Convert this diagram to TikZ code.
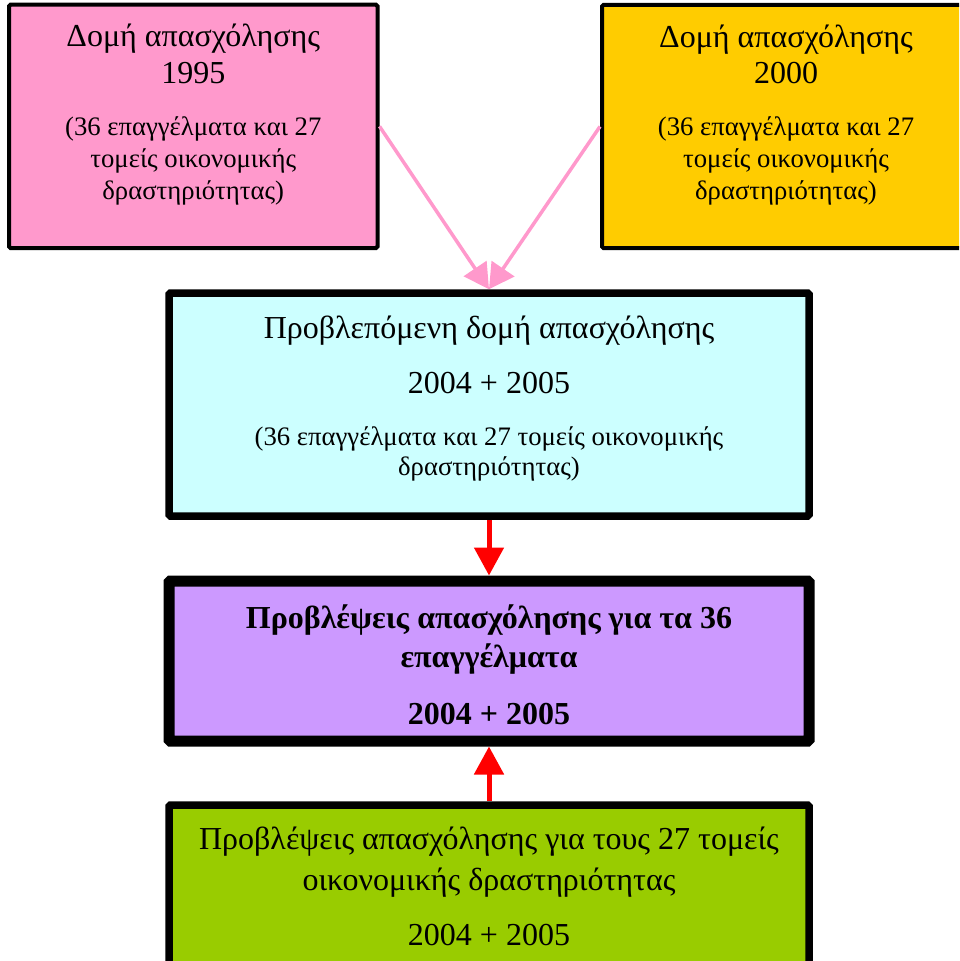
\documentclass[tikz,border=0pt]{standalone}
\usepackage{fontspec}
\setmainfont{Liberation Serif}
\usepackage{tikz}
\usetikzlibrary{positioning,arrows.meta}

\definecolor{rozfill}{HTML}{FF99CC}
\definecolor{kitrinofill}{HTML}{FFCC00}
\definecolor{galaziofill}{HTML}{CCFFFF}
\definecolor{mobfill}{HTML}{CC99FF}
\definecolor{prasinofill}{HTML}{99CC00}
\newcommand\megalo{\fontsize{32}{38}\selectfont}
\newcommand\mikro{\fontsize{26.7}{30}\selectfont}

\begin{document}
\begin{tikzpicture}[x=1pt,y=-1pt,
    kouti/.style={draw, rectangle, rounded corners=1.5pt, inner sep=0pt},
    keimeno/.style={align=center, inner sep=0pt, font=\megalo},
    rozbelos/.style={draw=rozfill, line width=3.5pt, -{Triangle[length=25pt,width=27pt]}},
    kokkinobelos/.style={draw=red, line width=5pt, -{Triangle[length=28pt,width=29pt]}}]
  \clip (0,0) rectangle (959,961);
  \useasboundingbox (0,0) rectangle (959,961);

  \node[kouti, line width=4pt, fill=rozfill, minimum width=368.5pt, minimum height=243.3pt] (d1995) at (193.25,126.35) {};
  \node[kouti, line width=4pt, fill=kitrinofill, minimum width=368pt, minimum height=243.3pt] (d2000) at (786,126.5) {};
  \node[kouti, line width=7.5pt, fill=galaziofill, minimum width=640pt, minimum height=223pt] (provl) at (489,404.5) {};
  \node[kouti, line width=11pt, fill=mobfill, minimum width=640pt, minimum height=160pt] (epag) at (489,661) {};
  \node[kouti, line width=7.5pt, fill=prasinofill, minimum width=640pt, minimum height=200pt] (tomeis) at (489,905) {};

  \node[keimeno, below=21.5pt of d1995.north] (d1995-t) {Δομή απασχόλησης\\[-1.5pt] 1995\\[13.7pt]
    {\mikro (36 επαγγέλματα και 27}\\[-6pt] {\mikro τομείς οικονομικής}\\[-6pt] {\mikro δραστηριότητας)}};
  \node[keimeno, below=21.5pt of d2000.north] (d2000-t) {Δομή απασχόλησης\\[-1.5pt] 2000\\[13.7pt]
    {\mikro (36 επαγγέλματα και 27}\\[-6pt] {\mikro τομείς οικονομικής}\\[-6pt] {\mikro δραστηριότητας)}};
  \node[keimeno, below=26.5pt of provl.north] (provl-t) {Προβλεπόμενη δομή απασχόλησης\\[16.6pt] 2004 + 2005\\[14pt]
    {\mikro (36 επαγγέλματα και 27 τομείς οικονομικής}\\[-7.7pt] {\mikro δραστηριότητας)}};
  \node[keimeno, below=29.5pt of epag.north] (epag-t) {\bfseries Προβλέψεις απασχόλησης για τα 36\\[1pt]
    \bfseries επαγγέλματα\\[19pt] \bfseries 2004 + 2005};
  \node[keimeno, below=25pt of tomeis.north] (tomeis-t) {Προβλέψεις απασχόλησης για τους 27 τομείς\\[3pt]
    οικονομικής δραστηριότητας\\[17pt] 2004 + 2005};

  \draw[rozbelos] (d1995.east) -- (provl.north);
  \draw[rozbelos] (d2000.west) -- (provl.north);
  \draw[kokkinobelos] (provl.south) -- (epag.north);
  \draw[kokkinobelos] (tomeis.north) -- (epag.south);
\end{tikzpicture}
\end{document}
